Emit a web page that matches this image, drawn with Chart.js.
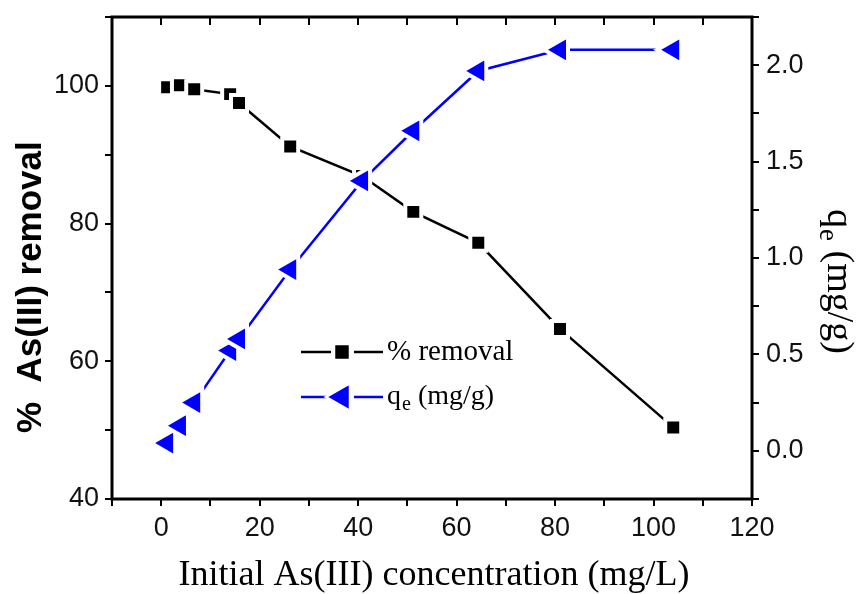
<!DOCTYPE html>
<html>
<head>
<meta charset="utf-8">
<title>As(III) removal vs initial concentration</title>
<script src="https://cdn.jsdelivr.net/npm/chart.js"></script>
<style>
  html, body { margin: 0; padding: 0; background: #fff; overflow: hidden; }
  /* layout keeps the plot top 3px too low, so the canvas is 3px taller and shifted up */
  #chart { display: block; margin-top: -3px; }
</style>
</head>
<body>
<canvas id="chart" width="856" height="597"></canvas>
<script>
// Data
const concentration = [1.2, 3.8, 6.7, 14.0, 15.8, 26.2, 40.8, 51.2, 64.4, 81.0, 104.0];
const removalPct = [99.8, 100.1, 99.5, 98.8, 97.5, 91.2, 86.9, 81.7, 77.2, 64.7, 50.4];
const qeValues = [0.04, 0.13, 0.25, 0.52, 0.58, 0.94, 1.40, 1.66, 1.97, 2.08, 2.08];

// Labelled ticks (minor ticks in between stay unlabelled)
const xTickLabels = [0, 20, 40, 60, 80, 100, 120];
const leftTickLabels = [40, 60, 80, 100];
const rightTickLabels = [0, 0.5, 1, 1.5, 2];

const BLUE = '#0000ff';
const BLACK = '#000000';
const TICK_FONT = { family: "'Liberation Sans', Arial, sans-serif", size: 27 };
const SERIF = "'Liberation Serif', 'Times New Roman', serif";
const OFF = 3; // canvas shift

// Draw "qe (mg/g)" with a subscript e, starting at (x, y) baseline
function drawQe(ctx, x, y, size) {
  ctx.font = `${size}px ${SERIF}`;
  ctx.fillText('q', x, y);
  x += ctx.measureText('q').width;
  const sub = Math.round(size * 0.72);
  ctx.font = `${sub}px ${SERIF}`;
  ctx.fillText('e', x + 1, y + size * 0.2);
  x += ctx.measureText('e').width + 1;
  ctx.font = `${size}px ${SERIF}`;
  ctx.fillText(' (mg/g)', x, y);
}

function drawMarker(ctx, style, x, y, radius, rotation, color) {
  ctx.fillStyle = color;
  ctx.strokeStyle = '#fff';
  Chart.helpers.drawPoint(ctx, { pointStyle: style, radius: radius, rotation: rotation, borderWidth: 4 }, x, y);
}

// Frame, mirrored top ticks, axis titles and legend
const decorations = {
  id: 'decorations',
  afterDraw(chart) {
    const { ctx, chartArea: a, scales } = chart;
    ctx.save();

    // top mirror ticks (inward)
    ctx.strokeStyle = BLACK;
    ctx.lineWidth = 2;
    scales.x.ticks.forEach(t => {
      const px = Math.round(scales.x.getPixelForValue(t.value));
      ctx.beginPath();
      ctx.moveTo(px, a.top);
      ctx.lineTo(px, a.top + 8);
      ctx.stroke();
    });

    // frame
    ctx.lineWidth = 3;
    ctx.strokeRect(a.left, a.top, a.right - a.left, a.bottom - a.top);

    ctx.fillStyle = BLACK;
    ctx.textAlign = 'left';
    ctx.textBaseline = 'alphabetic';

    // x title
    ctx.font = `36px ${SERIF}`;
    ctx.textAlign = 'center';
    ctx.fillText('Initial As(III) concentration (mg/L)', (a.left + a.right) / 2 + 2, 585 + OFF);

    // left title
    ctx.save();
    ctx.translate(41, 433 + OFF);
    ctx.rotate(-Math.PI / 2);
    ctx.textAlign = 'left';
    ctx.font = "bold 35px 'Liberation Sans', Arial, sans-serif";
    ctx.fillText('%  As(III) removal', 0, 0);
    ctx.restore();

    // right title
    ctx.save();
    ctx.translate(828, 209 + OFF);
    ctx.rotate(Math.PI / 2);
    ctx.textAlign = 'left';
    drawQe(ctx, 0, 0, 38);
    ctx.restore();

    // legend
    const rows = [
      { y: 352 + OFF, color: BLACK, style: 'rect', radius: 11.3, rotation: 0 },
      { y: 397 + OFF, color: BLUE, style: 'triangle', radius: 16, rotation: -90 }
    ];
    rows.forEach(r => {
      ctx.strokeStyle = r.color;
      ctx.lineWidth = 2.5;
      ctx.beginPath();
      ctx.moveTo(301, r.y);
      ctx.lineTo(331, r.y);
      ctx.moveTo(354, r.y);
      ctx.lineTo(383, r.y);
      ctx.stroke();
      drawMarker(ctx, r.style, 342, r.y, r.radius, r.rotation, r.color);
    });
    ctx.fillStyle = BLACK;
    ctx.textAlign = 'left';
    ctx.font = `29px ${SERIF}`;
    ctx.fillText('% removal', 387, 360 + OFF);
    drawQe(ctx, 387, 404 + OFF, 28);

    ctx.restore();
  }
};

function axisGrid() {
  return { drawOnChartArea: false, drawTicks: true, tickLength: 7, color: BLACK, lineWidth: 2 };
}

new Chart(document.getElementById('chart'), {
  type: 'line',
  data: {
    datasets: [
      {
        label: 'qe (mg/g)',
        data: concentration.map((c, i) => ({ x: c, y: qeValues[i] })),
        yAxisID: 'y1',
        borderColor: BLUE,
        borderWidth: 2.5,
        pointStyle: 'triangle',
        pointRotation: -90,
        pointRadius: 16,
        pointBackgroundColor: BLUE,
        pointBorderColor: '#fff',
        pointBorderWidth: 4,
        tension: 0,
        order: 0
      },
      {
        label: '% removal',
        data: concentration.map((c, i) => ({ x: c, y: removalPct[i] })),
        yAxisID: 'y',
        borderColor: BLACK,
        borderWidth: 2.5,
        pointStyle: 'rect',
        pointRadius: 11.3,
        pointBackgroundColor: BLACK,
        pointBorderColor: '#fff',
        pointBorderWidth: 4,
        tension: 0,
        order: 1
      }
    ]
  },
  options: {
    responsive: false,
    animation: false,
    devicePixelRatio: 1,
    layout: { padding: { top: 15, left: 0, right: 0, bottom: 0 } },
    plugins: {
      legend: { display: false },
      tooltip: { enabled: false }
    },
    scales: {
      x: {
        type: 'linear',
        min: -10,
        max: 120,
        ticks: {
          stepSize: 10,
          autoSkip: false,
          maxRotation: 0,
          padding: 6,
          color: '#111',
          font: TICK_FONT,
          callback: v => xTickLabels.includes(v) ? String(v) : ''
        },
        grid: axisGrid(),
        border: { display: false },
        afterFit(s) { s.height = 95; s.paddingLeft = 0; s.paddingRight = 0; }
      },
      y: {
        type: 'linear',
        position: 'left',
        min: 40,
        max: 110,
        ticks: {
          stepSize: 10,
          autoSkip: false,
          padding: 6,
          color: '#111',
          font: TICK_FONT,
          callback: v => leftTickLabels.includes(v) ? String(v) : ''
        },
        grid: axisGrid(),
        border: { display: false },
        afterFit(s) { s.width = 112; s.paddingTop = 0; s.paddingBottom = 0; }
      },
      y1: {
        type: 'linear',
        position: 'right',
        min: -0.25,
        max: 2.25,
        ticks: {
          stepSize: 0.25,
          autoSkip: false,
          padding: 7,
          color: '#111',
          font: TICK_FONT,
          callback: v => {
            const r = Math.round(v * 100) / 100;
            return rightTickLabels.includes(r) ? r.toFixed(1) : '';
          }
        },
        grid: axisGrid(),
        border: { display: false },
        afterFit(s) { s.width = 104; s.paddingTop = 0; s.paddingBottom = 0; }
      }
    }
  },
  plugins: [decorations]
});
</script>
</body>
</html>
